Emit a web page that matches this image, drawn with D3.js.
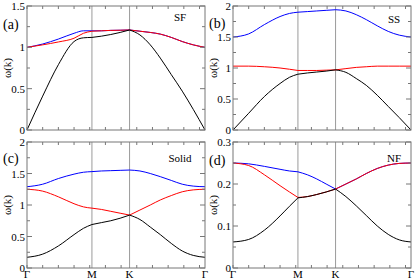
<!DOCTYPE html>
<html>
<head>
<meta charset="utf-8">
<script src="https://cdn.jsdelivr.net/npm/d3@7"></script>
<style>
body { margin: 0; background: #fff; }
svg text { font-family: "Liberation Serif", "Times New Roman", serif; }
</style>
</head>
<body>
<div id="chart"></div>
<script>
// path Γ -> M -> K -> Γ, in tick units along k
const kPos = [0, 4.14, 6.54, 11.35];
const kLabels = ["Γ", "M", "K", "Γ"];
const kGrid = [0, 1, 2, 3, 3.6, 4.14, 4.74, 5.34, 5.94, 6.54, 7.2, 7.86, 8.5, 9.2, 9.9, 10.6, 11.35];

// (a) SF
const sfBlack = [0, 0.41, 0.79, 1.07, 1.115, 1.12, 1.135, 1.155, 1.18, 1.21, 1.15, 1.03, 0.87, 0.67, 0.47, 0.25, 0];
const sfRed   = [1.0, 1.03, 1.065, 1.11, 1.17, 1.195, 1.2, 1.205, 1.207, 1.21, 1.195, 1.18, 1.16, 1.12, 1.07, 1.03, 1.0];
const sfBlue  = [1.0, 1.04, 1.1, 1.17, 1.2, 1.2, 1.2, 1.205, 1.207, 1.21, 1.195, 1.18, 1.16, 1.12, 1.07, 1.03, 1.0];
// (b) SS
const ssBlack = [0, 0.27, 0.54, 0.75, 0.85, 0.9, 0.92, 0.935, 0.95, 0.97, 0.93, 0.83, 0.72, 0.56, 0.38, 0.2, 0];
const ssRed   = [1.03, 1.03, 1.02, 1.0, 0.98, 0.96, 0.96, 0.96, 0.965, 0.97, 0.99, 1.01, 1.02, 1.03, 1.03, 1.03, 1.03];
const ssBlue  = [1.5, 1.55, 1.7, 1.83, 1.88, 1.9, 1.91, 1.92, 1.93, 1.94, 1.92, 1.86, 1.78, 1.68, 1.59, 1.53, 1.5];
// (c) Solid
const soBlack = [0.17, 0.22, 0.35, 0.53, 0.63, 0.69, 0.72, 0.75, 0.79, 0.84, 0.77, 0.65, 0.53, 0.39, 0.27, 0.2, 0.17];
const soRed   = [1.25, 1.22, 1.13, 1.02, 0.97, 0.95, 0.93, 0.9, 0.87, 0.84, 0.92, 1.0, 1.08, 1.15, 1.21, 1.24, 1.25];
const soBlue  = [1.29, 1.33, 1.42, 1.49, 1.52, 1.53, 1.54, 1.545, 1.55, 1.555, 1.54, 1.5, 1.45, 1.39, 1.33, 1.3, 1.29];
// (d) NF
const nfBlack = [0.062, 0.068, 0.09, 0.124, 0.147, 0.167, 0.17, 0.175, 0.181, 0.188, 0.17, 0.148, 0.125, 0.1, 0.08, 0.067, 0.062];
const nfRed   = [0.25, 0.244, 0.222, 0.196, 0.181, 0.168, 0.17, 0.175, 0.181, 0.188, 0.2, 0.212, 0.225, 0.237, 0.245, 0.249, 0.25];
const nfBlue  = [0.25, 0.248, 0.242, 0.235, 0.231, 0.229, 0.222, 0.212, 0.2, 0.188, 0.2, 0.212, 0.225, 0.237, 0.245, 0.249, 0.25];

const yTicksA = [0, 0.5, 1, 1.5];
const yTicksB = [0, 0.5, 1, 1.5, 2];
const yTicksD = [0, 0.1, 0.2, 0.3];

const panels = [
    { tag: "(a)", name: "SF", left: 27, right: 205, top: 6, bottom: 130, ymax: 1.5, ticks: yTicksA, minor: 0.25,
      bands: [sfBlue, sfRed, sfBlack], xlab: false, nameX: 180, nameY: 21, tagY: 29 },
    { tag: "(b)", name: "SS", left: 233, right: 411, top: 6, bottom: 130, ymax: 2, ticks: yTicksB, minor: 0.25,
      bands: [ssBlue, ssRed, ssBlack], xlab: false, nameX: 394, nameY: 23, tagY: 28 },
    { tag: "(c)", name: "Solid", left: 27, right: 205, top: 142, bottom: 268, ymax: 2, ticks: yTicksB, minor: 0.25,
      bands: [soBlue, soRed, soBlack], xlab: true, nameX: 180, nameY: 162, tagY: 163 },
    { tag: "(d)", name: "NF", left: 233, right: 411, top: 142, bottom: 268, ymax: 0.3, ticks: yTicksD, minor: 0.05,
      bands: [nfBlue, nfRed, nfBlack], xlab: true, nameX: 394, nameY: 162, tagY: 165 }
];
const colors = ["#0000ff", "#ff0000", "#000000"];

const svg = d3.select("#chart").append("svg")
    .attr("width", 415)
    .attr("height", 279);

panels.forEach(p => {
    const x = d3.scaleLinear().domain([0, kPos[3]]).range([p.left, p.right]);
    const y = d3.scaleLinear().domain([0, p.ymax]).range([p.bottom, p.top]);
    const g = svg.append("g");

    // symmetry lines
    g.selectAll(".sym").data([kPos[1], kPos[2]]).enter().append("line")
        .attr("x1", d => x(d)).attr("x2", d => x(d))
        .attr("y1", p.top).attr("y2", p.bottom)
        .attr("stroke", "#9a9a9a").attr("stroke-width", 1);

    // bands, drawn per segment so the kinks at M and K stay
    const line = d3.line().x(d => x(d[0])).y(d => y(d[1])).curve(d3.curveMonotoneX);
    const segs = [[0, 5], [5, 9], [9, 16]];
    p.bands.forEach((vals, bi) => {
        const pts = kGrid.map((k, i) => [k, vals[i]]);
        const dstr = segs.map(s => line(pts.slice(s[0], s[1] + 1))).join("");
        g.append("path")
            .attr("d", dstr)
            .attr("fill", "none")
            .attr("stroke", colors[bi])
            .attr("stroke-width", 1);
    });

    // ticks, all pointing inward
    const minorY = d3.range(0, p.ymax + 1e-9, p.minor);
    const minorX = d3.range(0, kPos[3], 1);
    const tk = g.append("g").attr("stroke", "#777").attr("stroke-width", 1);
    minorY.forEach(v => {
        const len = p.ticks.some(t => Math.abs(t - v) < 1e-9) ? 5 : 3;
        tk.append("line").attr("x1", p.left).attr("x2", p.left + len).attr("y1", y(v)).attr("y2", y(v));
        tk.append("line").attr("x1", p.right).attr("x2", p.right - len).attr("y1", y(v)).attr("y2", y(v));
    });
    minorX.forEach(v => {
        tk.append("line").attr("x1", x(v)).attr("x2", x(v)).attr("y1", p.bottom).attr("y2", p.bottom - 3);
        tk.append("line").attr("x1", x(v)).attr("x2", x(v)).attr("y1", p.top).attr("y2", p.top + 3);
    });

    // frame
    g.append("rect")
        .attr("x", p.left).attr("y", p.top)
        .attr("width", p.right - p.left).attr("height", p.bottom - p.top)
        .attr("fill", "none").attr("stroke", "#777").attr("stroke-width", 1);

    // y tick labels
    g.selectAll(".ylab").data(p.ticks).enter().append("text")
        .attr("x", p.left - 2)
        .attr("y", d => y(d) + 4)
        .attr("text-anchor", "end")
        .style("font-size", "11px")
        .text(d => d3.format("~g")(d));

    // x labels only on the bottom row
    if (p.xlab) {
        g.selectAll(".xlab").data(kPos).enter().append("text")
            .attr("x", d => x(d))
            .attr("y", 278)
            .attr("text-anchor", "middle")
            .style("font-size", "11px")
            .text((d, i) => kLabels[i]);
    }

    g.append("text")
        .attr("transform", "translate(" + (p.left - 16) + "," + ((p.top + p.bottom) / 2) + ") rotate(-90)")
        .attr("text-anchor", "middle")
        .style("font-size", "11px")
        .text("ω(k)");

    g.append("text")
        .attr("x", p.left - 24)
        .attr("y", p.tagY)
        .style("font-size", "14px")
        .text(p.tag);

    g.append("text")
        .attr("x", p.nameX)
        .attr("y", p.nameY)
        .attr("text-anchor", "middle")
        .style("font-size", "11px")
        .text(p.name);
});
</script>
</body>
</html>
